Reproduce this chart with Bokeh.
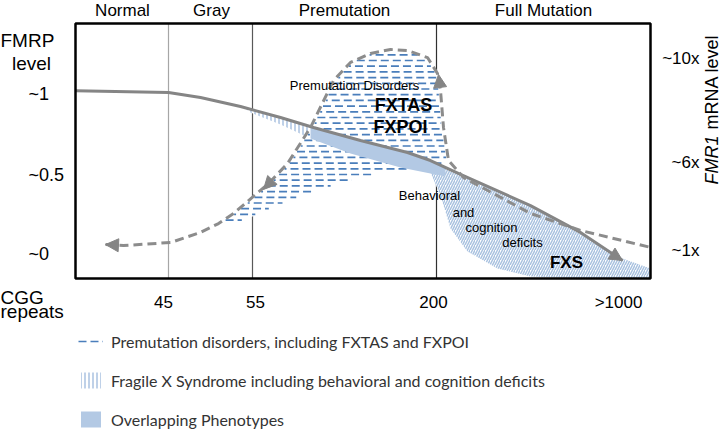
import math
from bokeh.plotting import figure
from bokeh.models import Range1d, Label, Arrow, NormalHead, ColumnDataSource, Legend, LegendItem
from bokeh.embed import file_html
from bokeh.resources import INLINE

# ---------------- data (schematic: x = position along CGG-repeat scale, y = FMRP level) -------------
chart_x = [0, 575]              # extent of the boxed chart area
chart_y = [-0.1071, 1.4107]
view_x = [-75, 645]             # whole canvas
view_y = [-1.0119, 1.5476]

regions = ["Normal", "Gray", "Premutation", "Full Mutation"]
region_x = [47, 136, 269, 468]
boundary_x = [93, 177, 361]
boundary_colors = ["#a6a6a6", "#595959", "#303030"]

cgg_ticks = ["45", "55", "200", ">1000"]
cgg_tick_x = [88, 180, 358, 543]
fmrp_ticks = ["~1", "~0.5", "~0"]
fmrp_tick_y = [0.99, 0.51, 0.04]
mrna_ticks = ["~10x", "~6x", "~1x"]
mrna_tick_y = [1.20, 0.583, 0.06]

# FMRP level curve (solid)
fmrp_x = [0, 93, 125, 165, 205, 238, 285, 332, 355, 385, 455, 505, 547]
fmrp_y = [1.01, 1.00, 0.97, 0.917, 0.851, 0.792, 0.714, 0.643, 0.595, 0.512, 0.327, 0.167, 0.0]

# FMR1 mRNA level curve (dashed)
mrna_x = [30, 48, 95, 125, 143, 158, 193, 212, 235, 258, 275, 295, 315, 332, 352, 362, 365, 368, 373, 388, 455, 505, 575]
mrna_y = [0.095, 0.089, 0.107, 0.167, 0.22, 0.280, 0.458, 0.577, 0.792, 1.071, 1.179, 1.232, 1.256, 1.250,
          1.208, 1.113, 1.012, 0.792, 0.595, 0.494, 0.280, 0.179, 0.078]

# premutation-disorder region: top follows the mRNA curve, lower edge below
premut_lower_x = [365, 325, 305, 265, 232, 198, 165]
premut_lower_y = [0.571, 0.536, 0.518, 0.458, 0.399, 0.315, 0.232]

# FXS region, thin band in the premutation zone
band_x = [168, 205, 235, 235, 205, 175]
band_y = [0.912, 0.851, 0.798, 0.726, 0.810, 0.881]
# overlapping phenotypes
overlap_x = [235, 285, 332, 355, 370, 370, 325, 275, 235]
overlap_y = [0.798, 0.714, 0.643, 0.595, 0.554, 0.50, 0.554, 0.637, 0.726]
# FXS region in the full-mutation zone
fxs_x = [355, 385, 455, 505, 547, 575, 575, 505, 455, 422, 392, 375, 365, 355]
fxs_y = [0.589, 0.512, 0.327, 0.167, 0.012, -0.048, -0.107, -0.107, -0.095, -0.048, 0.054, 0.190, 0.387, 0.524]

# arrow heads
arrow_x0 = [48, 203, 365, 525]
arrow_y0 = [0.089, 0.518, 1.012, 0.083]
arrow_x1 = [30, 188, 363, 547]
arrow_y1 = [0.095, 0.423, 1.107, 0.0]

inner_text = ["Premutation Disorders", "FXTAS", "FXPOI", "Behavioral", "and", "cognition", "deficits", "FXS"]
inner_x = [279, 328, 325, 354, 388, 416, 447, 491]
inner_y = [1.042, 0.923, 0.792, 0.387, 0.286, 0.196, 0.107, -0.012]
inner_size = ["13px", "18px", "18px", "13px", "13px", "13px", "13px", "17px"]
inner_bold = [False, True, True, False, False, False, False, True]

legend_labels = ["Premutation disorders, including FXTAS and FXPOI",
                 "Fragile X Syndrome including behavioral and cognition deficits",
                 "Overlapping Phenotypes"]

FONT = "Liberation Sans"
GRAY = "#858585"
DASH_BLUE = "#4a7ebb"

p = figure(width=720, height=430, x_range=Range1d(*view_x), y_range=Range1d(*view_y),
           output_backend="svg", toolbar_location=None, x_axis_location=None, y_axis_location=None,
           min_border=0)
p.grid.visible = False
p.outline_line_color = None
p.background_fill_color = "white"
p.border_fill_color = "white"

# region boundaries
p.segment(x0=boundary_x, y0=[chart_y[0]] * 3, x1=boundary_x, y1=[chart_y[1]] * 3,
          line_color=boundary_colors, line_width=1.2)

r_band = p.patch(band_x, band_y, fill_color="white", fill_alpha=1, hatch_pattern="|", hatch_color="#a9c2e0",
                 hatch_scale=4, hatch_weight=1.5, line_alpha=0)
r_fxs = p.patch(fxs_x, fxs_y, fill_color="white", fill_alpha=1, hatch_pattern="/", hatch_color="#a9c2e0",
                hatch_scale=5, hatch_weight=1.5, line_alpha=0)
premut_x = mrna_x[4:19] + premut_lower_x
premut_y = mrna_y[4:19] + premut_lower_y
r_premut = p.patch(premut_x, premut_y, fill_color="white", fill_alpha=1, line_alpha=0)


# horizontal dash texture of the premutation region: scan rows across the region outline
def scan_spans(xs, ys, yv):
    cuts = []
    n = len(xs)
    for i in range(n):
        x1, y1, x2, y2 = xs[i], ys[i], xs[(i + 1) % n], ys[(i + 1) % n]
        if (y1 <= yv < y2) or (y2 <= yv < y1):
            cuts.append(x1 + (yv - y1) / (y2 - y1) * (x2 - x1))
    cuts.sort()
    return [(cuts[k], cuts[k + 1]) for k in range(0, len(cuts) - 1, 2)]


row_step = 5.7 / 168
rows = [[], []]
yv = min(premut_y) + row_step * 0.6
k = 0
while yv < max(premut_y):
    for a, b in scan_spans(premut_x, premut_y, yv):
        if b - a > 6:
            rows[k % 2].append(([a + 2, b - 2], [yv, yv]))
    yv += row_step
    k += 1

dash_renderers = []
for i, rr in enumerate(rows):
    dash_renderers.append(p.multi_line(xs=[r[0] for r in rr], ys=[r[1] for r in rr], line_color=DASH_BLUE,
                                       line_width=1.7, line_dash="8 4", line_dash_offset=6 * i))

r_overlap = p.patch(overlap_x, overlap_y, fill_color="#b3c9e4", fill_alpha=1, line_alpha=0)

p.line(fmrp_x, fmrp_y, line_color=GRAY, line_width=3)
p.line(mrna_x, mrna_y, line_color="#8c8c8c", line_width=3, line_dash="9 5")

src = ColumnDataSource(dict(x0=arrow_x0, y0=arrow_y0, x1=arrow_x1, y1=arrow_y1))
p.add_layout(Arrow(x_start="x0", y_start="y0", x_end="x1", y_end="y1", source=src, line_alpha=0,
                   end=NormalHead(size=13, fill_color=GRAY, line_color=GRAY)))

# chart box
p.quad(left=[chart_x[0]], right=[chart_x[1]], bottom=[chart_y[0]], top=[chart_y[1]],
       fill_alpha=0, line_color="black", line_width=2.5)

for t, x, y, s, b in zip(inner_text, inner_x, inner_y, inner_size, inner_bold):
    p.add_layout(Label(x=x, y=y, text=t, text_font=FONT, text_font_size=s,
                       text_font_style="bold" if b else "normal", text_align="center",
                       text_baseline="middle", text_color="black"))


def lab(text, x, y, size, align="left", style="normal", angle=0.0):
    p.add_layout(Label(x=x, y=y, text=text, text_font=FONT, text_font_size=size, text_font_style=style,
                       text_align=align, text_baseline="middle", text_color="black", angle=angle))


for t, x in zip(regions, region_x):
    lab(t, x, 1.488, "17px", "center")
for t, x in zip(cgg_ticks, cgg_tick_x):
    lab(t, x, -0.25, "17px", "center")
for t, y in zip(fmrp_ticks, fmrp_tick_y):
    lab(t, -47, y, "18px", "left")
for t, y in zip(mrna_ticks, mrna_tick_y):
    lab(t, 624, y, "17px", "right")

lab("FMRP", -75, 1.310, "19px", "left")
lab("level", -44, 1.173, "19px", "center")
lab("CGG", -75, -0.220, "19px", "left")
lab("repeats", -75, -0.304, "19px", "left")
lab("FMR1", 636, 0.744, "18px", "right", "italic", math.pi / 2)
lab("mRNA level", 636, 0.780, "18px", "left", "normal", math.pi / 2)

legend = Legend(items=[LegendItem(label=legend_labels[0], renderers=[r_premut, dash_renderers[0]]),
                       LegendItem(label=legend_labels[1], renderers=[r_band]),
                       LegendItem(label=legend_labels[2], renderers=[r_overlap])],
                location=(78, 1), padding=0, margin=0, spacing=19, glyph_width=25, glyph_height=20,
                label_height=20, label_standoff=8, label_text_font="Lato", label_text_font_size="16px",
                label_text_color="#333333", border_line_alpha=0, background_fill_alpha=0)
p.add_layout(legend)

open("out.html", "w").write(file_html(p, INLINE))
